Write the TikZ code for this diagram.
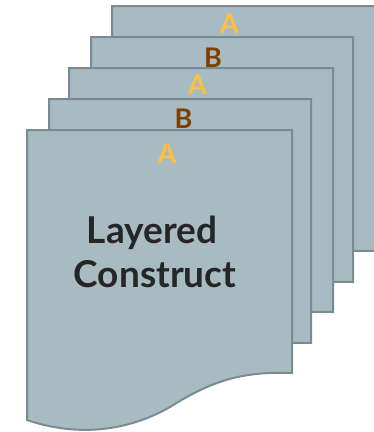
\documentclass[tikz,border=0pt]{standalone}
\usepackage{fontspec}
\setmainfont{Lato}
\definecolor{pagefill}{HTML}{A8BBC2}
\definecolor{pageedge}{HTML}{7A8B92}
\definecolor{labA}{HTML}{FDC03F}
\definecolor{labB}{HTML}{7B3F00}
\definecolor{maintext}{HTML}{262626}
\newcommand\docsheet[4]{%
  \draw[pagesheet] (#1,#2+290) -- (#1,#2) -- (#3,#2) -- (#3,#4)
    .. controls (#3-52,#4-2) and (#3-82,#4+9) .. (#3-122,#4+34)
    .. controls (#3-162,#4+57) and (#1+53,#2+308) .. (#1,#2+290) -- cycle;}
\begin{document}
\begin{tikzpicture}[x=1pt,y=-1pt,
  pagesheet/.style={fill=pagefill,draw=pageedge,line width=2pt,line join=miter},
  lab/.style={font=\fontsize{27}{27}\selectfont\bfseries,anchor=base,inner sep=0pt},
  laba/.style={lab,text=labA},
  labb/.style={lab,text=labB},
  maintxt/.style={font=\fontsize{37}{37}\selectfont\bfseries,anchor=base,inner sep=0pt,text=maintext}]
\useasboundingbox (0,0) rectangle (373,432);
\docsheet{112}{6}{376}{251}
\docsheet{91}{37}{353}{282}
\docsheet{69}{68}{333}{312}
\docsheet{49}{99}{311}{343}
\docsheet{27}{130}{292}{373}
\node[laba] (l5) at (229.5,33) {A};
\node[labb] (l4) at (213,67) {B};
\node[laba] (l3) at (197.5,94) {A};
\node[labb] (l2) at (183.5,128) {B};
\node[laba] (l1) at (167,163) {A};
\node[maintxt] (t1) at (152,243) {Layered};
\node[maintxt] (t2) at (155,287) {Construct};
\end{tikzpicture}
\end{document}
